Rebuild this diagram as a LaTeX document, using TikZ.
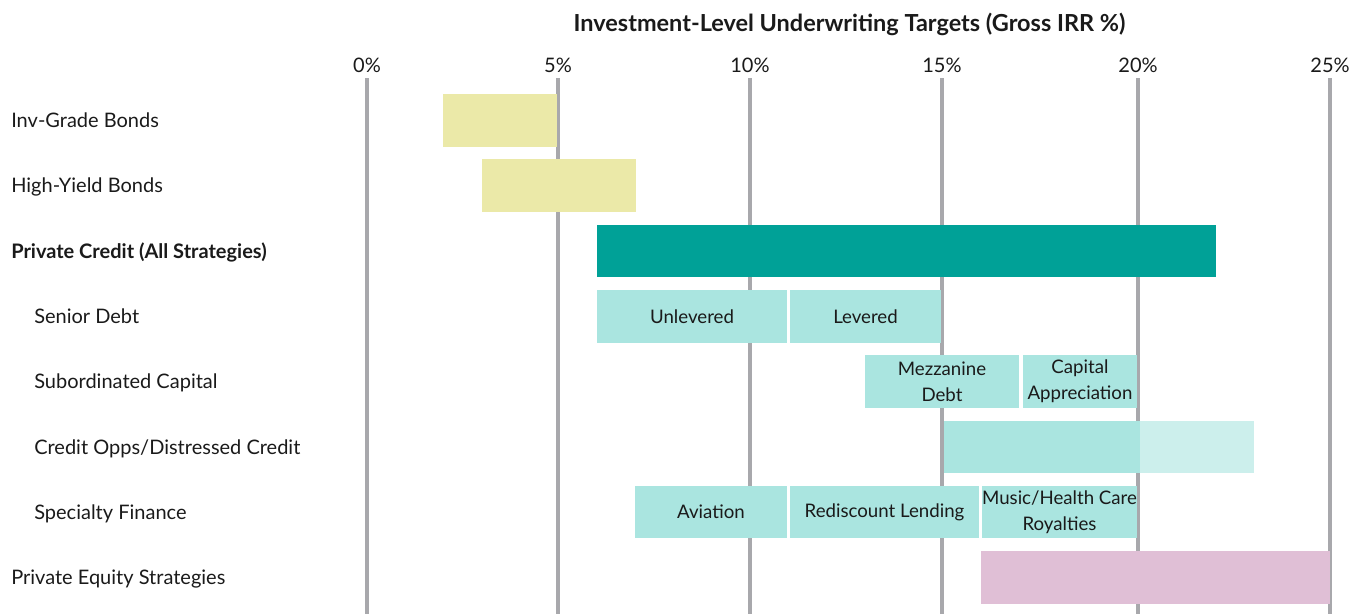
\documentclass[tikz,border=0pt]{standalone}
\usepackage{fontspec}
\setmainfont{Lato}
\usetikzlibrary{positioning}

\definecolor{ink}{HTML}{1A1A1A}
\definecolor{gridgray}{HTML}{A8A8AC}
\definecolor{bondyellow}{HTML}{EBE9A8}
\definecolor{pcteal}{HTML}{00A197}
\definecolor{subteal}{HTML}{AAE5E0}
\definecolor{paleteal}{HTML}{CCEFEC}
\definecolor{pepink}{HTML}{E0BFD6}

\tikzset{
    gridline/.style={draw=gridgray, line width=2.4pt},
    ticklabel/.style={anchor=base, inner sep=0pt, text=ink, font=\fontsize{15}{18}\selectfont},
    charttitle/.style={anchor=base, inner sep=0pt, text=ink, font=\bfseries\fontsize{17.6}{20}\selectfont},
    rowlabel/.style={anchor=base west, inner sep=0pt, text=ink, font=\fontsize{15}{18}\selectfont},
    segbar/.style={rectangle, inner sep=0pt, minimum height=39.5pt, align=center,
        text=ink, font=\fontsize{14}{19.5}\selectfont}
}

% bar segment: name, from, to (px), row, colour, text
\newcommand{\barseg}[6]{%
    \node[segbar, fill=#5, minimum width={(#3-#2)*0.75pt}] (#1)
        at ({(#2+#3)/2},{120.35+65.3*#4}) {#6};}

\begin{document}
\begin{tikzpicture}[x=0.75pt,y=-0.75pt]
    \useasboundingbox (0,0) rectangle (1366,614);

    \node[charttitle] (title) at (849.5,31.7) {Investment-Level Underwriting Targets (Gross IRR \%)};

    % axis ticks and grid
    \foreach \x/\p in {367/0,558/5,750/10,942/15,1138/20,1330/25} {
        \node[ticklabel] (tick\p) at (\x,72) {\p\%};
        \coordinate (foot\p) at (\x,614);
        \draw[gridline] ([yshift=-4.5pt]tick\p.base) -- (foot\p);
    }

    % row labels
    \node[rowlabel] (inv) at (11,127.6) {Inv-Grade Bonds};
    \node[rowlabel] (hy) at (11,192.9) {High-Yield Bonds};
    \node[rowlabel] (pc) at (11,258.2) {\bfseries Private Credit (All Strategies)};
    \node[rowlabel] (senior) at (34,323.5) {Senior Debt};
    \node[rowlabel] (subord) at (34,388.8) {Subordinated Capital};
    \node[rowlabel] (opps) at (34,454.1) {Credit Opps/Distressed Credit};
    \node[rowlabel] (spec) at (34,519.4) {Specialty Finance};
    \node[rowlabel] (pe) at (11,584.7) {Private Equity Strategies};

    % bars
    \barseg{invbar}{443}{557}{0}{bondyellow}{}
    \barseg{hybar}{482}{636}{1}{bondyellow}{}
    \barseg{pcbar}{597}{1215.7}{2}{pcteal}{}
    \barseg{unlev}{597}{787}{3}{subteal}{Unlevered}
    \barseg{lev}{790}{941}{3}{subteal}{Levered}
    \barseg{mezz}{865}{1019}{4}{subteal}{Mezzanine\\Debt}
    \barseg{capapp}{1023}{1137}{4}{subteal}{Capital\\Appreciation}
    \barseg{oppsbar}{944}{1140}{5}{subteal}{}
    \barseg{oppsup}{1140}{1254}{5}{paleteal}{}
    \barseg{aviation}{635}{787}{6}{subteal}{Aviation}
    \barseg{redisc}{790}{979}{6}{subteal}{Rediscount Lending}
    \barseg{music}{982}{1137}{6}{subteal}{Music/Health Care\\Royalties}
    \barseg{pebar}{981}{1330}{7}{pepink}{}
\end{tikzpicture}
\end{document}
